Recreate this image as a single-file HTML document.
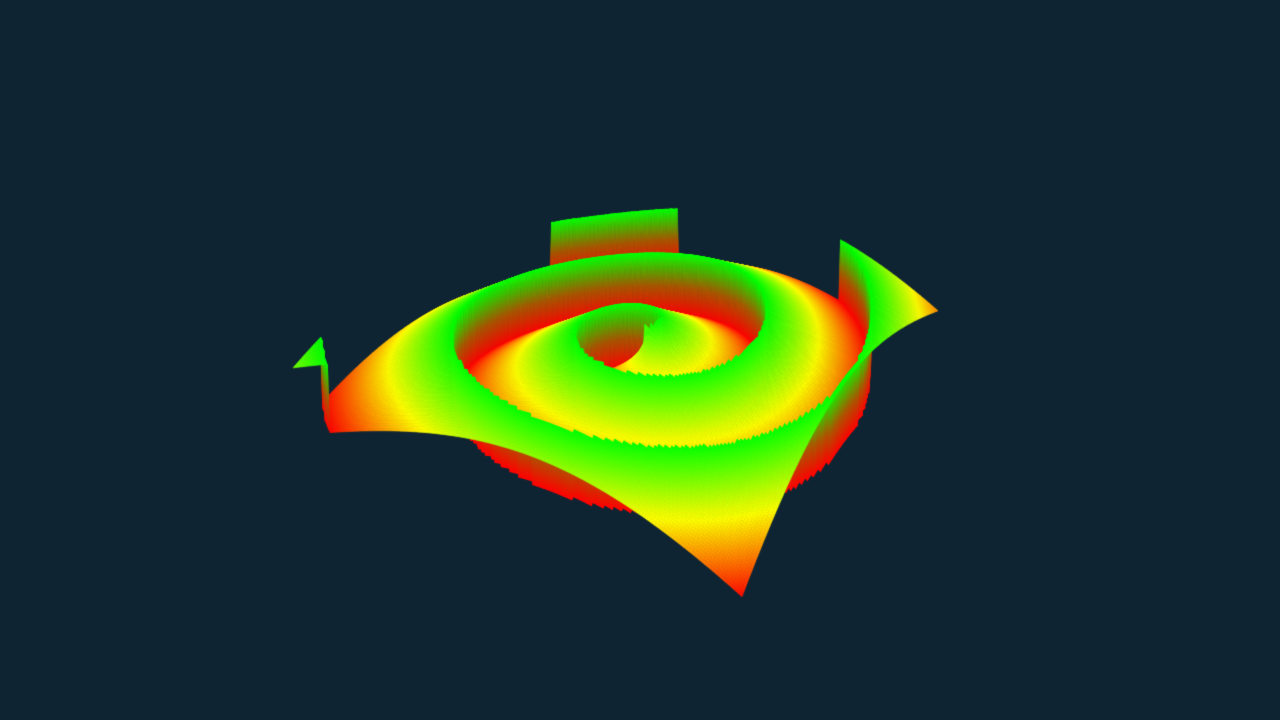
<!DOCTYPE html>
<html><head><meta charset="utf-8"><style>
html,body{margin:0;padding:0;background:#0f2433;width:1280px;height:720px;overflow:hidden}
canvas{display:block}
</style></head><body>
<div style="width:1280px;height:720px;position:relative">
<canvas id="c" width="1280" height="720"></canvas>
</div>
<script>
// surface parameters (spiral surface z = frac(phase + arms*theta/2pi - k*r))
const gridRange = [-1, 1];
const gridSteps = [170];
const spiralTurns = [2.0];
const spiralPhase = [0.97];
const spiralArms = [-1];
const colorStops = ['#ff0000', '#ffff00', '#00ff00'];

const cv = document.getElementById('c');
const ctx = cv.getContext('2d');
ctx.fillStyle = '#0f2433';
ctx.fillRect(0, 0, 1280, 720);

const cB = {x: 607, y: 252, w: 0.8}, cR = {x: 938, y: 328, w: 0.95}, cL = {x: 293, y: 420, w: 1.0}, cF = {x: 742, y: 598, w: 1.1};
const wallPx = 68, domePx = 12;

function phaseAt(u, v) {
  const r = Math.sqrt(u*u + v*v);
  const th = Math.atan2(v, u) / (2*Math.PI);
  let p = spiralPhase[0] + spiralArms[0]*th - spiralTurns[0]*r;
  p = p - Math.floor(p);
  return p;
}
function proj(u, v, p) {
  const a = (u - gridRange[0]) / (gridRange[1] - gridRange[0]);
  const b = (v - gridRange[0]) / (gridRange[1] - gridRange[0]);
  const k00 = (1-a)*(1-b), k10 = a*(1-b), k01 = (1-a)*b, k11 = a*b;
  const x = cB.x*k00 + cR.x*k10 + cL.x*k01 + cF.x*k11;
  const y = cB.y*k00 + cR.y*k10 + cL.y*k01 + cF.y*k11;
  const w = cB.w*k00 + cR.w*k10 + cL.w*k01 + cF.w*k11;
  const r2 = u*u + v*v;
  const z = (domePx*(1 - r2/2) + wallPx*p) * w;
  return {x: x, y: y - z, by: y};
}
function col(p) {
  if (p < 0.5) return 'rgb(255,' + Math.round(510*p) + ',0)';
  return 'rgb(' + Math.round(255*(2 - 2*p)) + ',255,0)';
}
const N = gridSteps[0];
const span = gridRange[1] - gridRange[0];
const verts = [];
for (let i = 0; i <= N; i++) {
  verts.push([]);
  for (let j = 0; j <= N; j++) {
    const u = gridRange[0] + span*i/N, v = gridRange[0] + span*j/N;
    const p = phaseAt(u, v);
    verts[i].push({p: p, s: proj(u, v, p)});
  }
}
const cells = [];
for (let i = 0; i < N; i++) for (let j = 0; j < N; j++) {
  const q = [verts[i][j], verts[i+1][j], verts[i+1][j+1], verts[i][j+1]];
  const depth = (q[0].s.by + q[1].s.by + q[2].s.by + q[3].s.by) / 4;
  cells.push({q: q, d: depth});
}
cells.sort((a, b) => a.d - b.d);
ctx.lineWidth = 0.6;
for (const c of cells) {
  const q = c.q;
  let mn = 1, mx = 0, sum = 0, ymin = 1e9, ymax = -1e9;
  for (const v of q) { mn = Math.min(mn, v.p); mx = Math.max(mx, v.p); sum += v.p; ymin = Math.min(ymin, v.s.y); ymax = Math.max(ymax, v.s.y); }
  let fill;
  if (mx - mn > 0.5) {
    const g = ctx.createLinearGradient(0, ymin, 0, ymax);
    g.addColorStop(0, '#00ff00'); g.addColorStop(0.55, '#aa5500'); g.addColorStop(1, '#ff0000');
    fill = g;
  } else fill = col(sum/4);
  ctx.beginPath();
  ctx.moveTo(q[0].s.x, q[0].s.y);
  for (let k = 1; k < 4; k++) ctx.lineTo(q[k].s.x, q[k].s.y);
  ctx.closePath();
  ctx.fillStyle = fill; ctx.strokeStyle = fill;
  ctx.fill(); ctx.stroke();
}
</script>
</body></html>
